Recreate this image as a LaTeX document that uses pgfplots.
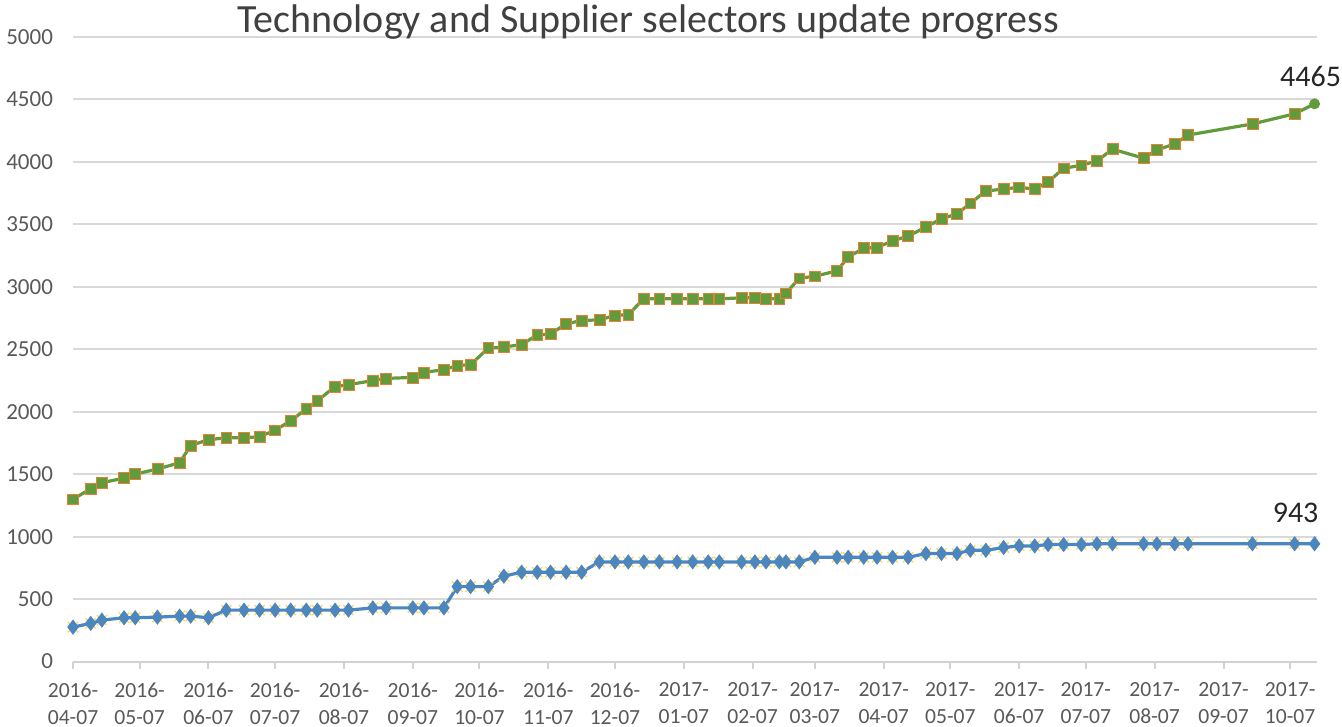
\documentclass[border=0pt]{standalone}
\usepackage{fontspec}
\setmainfont{Carlito}
\usepackage{pgfplots}
\usepackage{pgfplotstable}
\pgfplotsset{compat=1.18}
\definecolor{grn}{HTML}{629B3C}
\definecolor{blu}{HTML}{4C86BF}
\definecolor{org}{HTML}{ED7D31}
\definecolor{ylw}{HTML}{FFD966}
\definecolor{lbl}{HTML}{595959}
\definecolor{ttl}{HTML}{404040}

\pgfplotstableread{
day green blue
0 1300 276
8 1384 306
13 1432 332
23 1469 351
28 1501 351
38 1541 356
48 1592 364
53 1730 364
61 1776 351
69 1792 412
77 1792 412
84 1800 412
91 1852 412
98 1928 412
105 2022 412
110 2088 412
118 2201 412
124 2217 412
135 2249 430
141 2267 430
153 2275 430
158 2315 430
167 2337 430
173 2370 600
179 2377 600
187 2510 600
194 2518 684
202 2538 716
209 2615 716
215 2622 716
222 2704 716
229 2730 716
237 2736 798
244 2770 798
250 2778 798
257 2904 798
264 2904 798
272 2904 798
279 2904 798
286 2904 798
291 2904 798
301 2912 798
307 2912 798
312 2904 798
318 2904 798
321 2949 798
327 3069 798
334 3085 835
344 3128 835
349 3238 835
356 3310 835
362 3315 835
369 3369 835
376 3406 835
384 3478 865
391 3546 865
398 3583 865
404 3669 891
411 3767 891
419 3783 913
426 3797 926
433 3782 926
439 3839 937
446 3949 937
454 3973 937
461 4008 943
468 4102 943
482 4030 943
488 4097 943
496 4143 943
502 4215 943
531 4304 943
550 4385 943
559 4465 943
}\data

\begin{document}
\begin{tikzpicture}
\useasboundingbox (-36.5pt,-32.7pt) rectangle (634.5pt,330.8pt);
\begin{axis}[
 at={(0,0)}, anchor=south west,
 scale only axis, width=621.9pt, height=312.3pt,
 xmin=0, xmax=560, ymin=0, ymax=5000,
 axis x line*=bottom, axis y line*=left,
 y axis line style={draw=none},
 x axis line style={draw=gray!35, line width=1pt},
 ytick={0,500,...,5000},
 ymajorgrids, grid style={draw=gray!30, line width=1pt},
 xtick={0,30,61,91,122,153,183,214,244,275,306,334,365,395,426,456,487,518,548},
 xticklabels={{2016-\\04-07},{2016-\\05-07},{2016-\\06-07},{2016-\\07-07},{2016-\\08-07},{2016-\\09-07},{2016-\\10-07},{2016-\\11-07},{2016-\\12-07},{2017-\\01-07},{2017-\\02-07},{2017-\\03-07},{2017-\\04-07},{2017-\\05-07},{2017-\\06-07},{2017-\\07-07},{2017-\\08-07},{2017-\\09-07},{2017-\\10-07}},
 tick align=outside,
 major tick length=3.5pt,
 xtick style={draw=gray!35, line width=1pt},
 ytick style={draw=none},
 xticklabel style={align=center, font=\fontsize{10.8}{13.5}\selectfont, text=lbl, yshift=-3.5pt},
 yticklabel style={font=\fontsize{11.5}{13}\selectfont, text=lbl, xshift=-3pt},
 /pgf/number format/assume math mode=true,
 /pgf/number format/1000 sep={},
 clip=false,
]
\addplot[grn, line width=1.6pt, forget plot] table[x=day,y=green]{\data};
\addplot[only marks, mark=square*, mark size=2.7pt, mark options={fill=grn, draw=org, line width=0.3pt}, skip coords between index={73}{74}] table[x=day,y=green]{\data};
\addplot[only marks, mark=*, mark size=2.5pt, mark options={fill=grn, draw=grn}, skip coords between index={0}{73}] table[x=day,y=green]{\data};
\addplot[blu, line width=1.6pt] table[x=day,y=blue]{\data};
\addplot[only marks, mark=x, mark size=3.6pt, mark options={draw=ylw, line width=0.7pt}, skip coords between index={73}{74}] table[x=day,y=blue]{\data};
\addplot[only marks, mark=diamond*, mark size=3.5pt, mark options={fill=blu, draw=blu}] table[x=day,y=blue]{\data};
\node[font=\fontsize{15}{18}\selectfont, text=black!85] at (axis cs:559,4465) [xshift=-2pt, yshift=13.75pt] {4465};
\node[font=\fontsize{15}{18}\selectfont, text=black!85] at (axis cs:559,943) [xshift=-9.5pt, yshift=15.5pt] {943};
\end{axis}
\node[font=\fontsize{20}{24}\selectfont, text=ttl] at (287.75pt,319.8pt) {Technology and Supplier selectors update progress};
\end{tikzpicture}
\end{document}
